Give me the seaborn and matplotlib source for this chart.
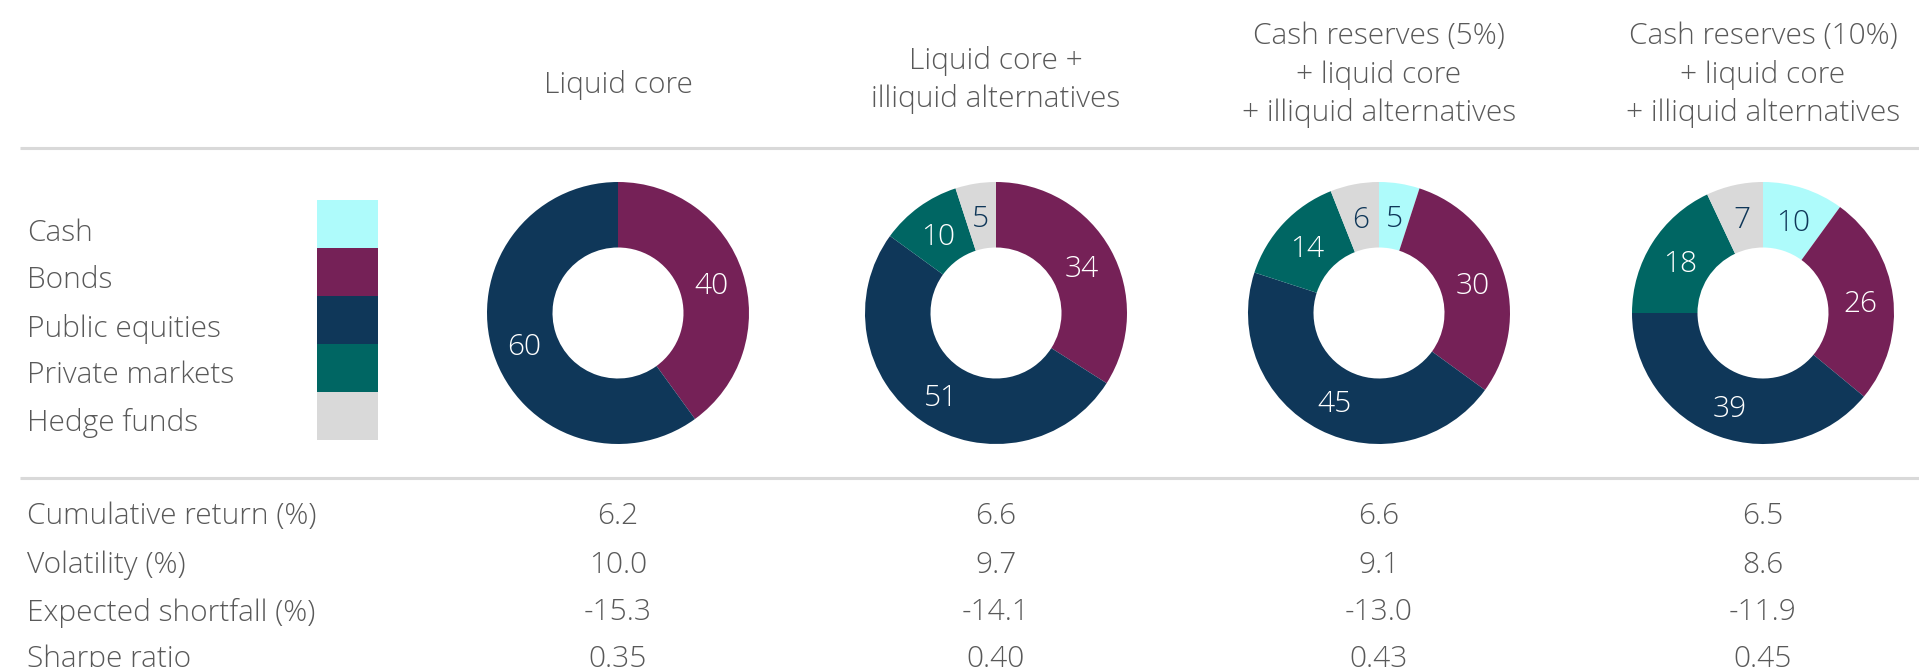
import numpy as np
import pandas as pd
import matplotlib
matplotlib.use("Agg")
import matplotlib.pyplot as plt
import seaborn as sns

# Datos
segmentos = ["Cash", "Bonds", "Public equities", "Private markets", "Hedge funds"]
carteras = [
    "Liquid core",
    "Liquid core +\nilliquid alternatives",
    "Cash reserves (5%)\n+ liquid core\n+ illiquid alternatives",
    "Cash reserves (10%)\n+ liquid core\n+ illiquid alternatives",
]
liquid_core = [0, 40, 60, 0, 0]
liquid_illiquid = [0, 34, 51, 10, 5]
cash5 = [5, 30, 45, 14, 6]
cash10 = [10, 26, 39, 18, 7]

metricas = ["Cumulative return (%)", "Volatility (%)", "Expected shortfall (%)", "Sharpe ratio"]
cum_return = [6.2, 6.6, 6.6, 6.5]
volatility = [10.0, 9.7, 9.1, 8.6]
exp_shortfall = [-15.3, -14.1, -13.0, -11.9]
sharpe = [0.35, 0.40, 0.43, 0.45]
formatos = ["{:.1f}", "{:.1f}", "{:.1f}", "{:.2f}"]

colores = sns.color_palette(["#aefbfb", "#752157", "#0f3759", "#006663", "#d9d9d9"])
color_etiqueta = ["#0f3759", "white", "white", "white", "#0f3759"]
gris_texto = "#595959"
gris_linea = "#d9d9d9"

sns.set_theme(style="white")
plt.rcParams["font.family"] = ["Open Sans", "DejaVu Sans"]

W, H = 1919, 667
fig = plt.figure(figsize=(W / 100, H / 100), dpi=100)

# Ejes de fondo en coordenadas de pixel
bg = fig.add_axes([0, 0, 1, 1])
bg.set_xlim(0, W)
bg.set_ylim(H, 0)
bg.axis("off")

centros = [618, 996, 1379, 1763]
cy, radio = 313, 131
fs = 21.5
peso = "light"

# Titulos de columna (y de la primera linea)
y_titulo = [82, 57, 33, 33]
for cx, titulo, y0 in zip(centros, carteras, y_titulo):
    for i, linea in enumerate(titulo.split("\n")):
        bg.text(cx, y0 + i * 38.5, linea, ha="center", va="center_baseline",
                fontsize=fs, color=gris_texto, fontweight=peso)

# Lineas separadoras
bg.plot([20, W], [148, 148], color=gris_linea, lw=2.2, solid_capstyle="butt")
bg.plot([20, W], [478, 478], color=gris_linea, lw=2.2, solid_capstyle="butt")

# Leyenda
y_leyenda = [230, 277, 325, 372, 419]
for seg, yy in zip(segmentos, y_leyenda):
    bg.text(27, yy, seg, ha="left", va="center_baseline", fontsize=fs,
            color=gris_texto, fontweight=peso)

ax_leg = fig.add_axes([317 / W, 1 - 440 / H, 61 / W, 240 / H])
ax_leg.bar([0] * len(segmentos), [1] * len(segmentos), bottom=np.arange(len(segmentos)),
           width=1, color=colores, linewidth=0)
ax_leg.set_xlim(-0.5, 0.5)
ax_leg.set_ylim(len(segmentos), 0)
ax_leg.axis("off")

# Donuts
for cx, vals in zip(centros, [liquid_core, liquid_illiquid, cash5, cash10]):
    ax = fig.add_axes([(cx - radio) / W, 1 - (cy + radio) / H, 2 * radio / W, 2 * radio / H])
    df = pd.DataFrame({"segmento": segmentos, "valor": vals, "color": colores,
                       "etq": color_etiqueta})
    df = df[df["valor"] > 0]
    wedges, textos = ax.pie(df["valor"], colors=df["color"], startangle=90, counterclock=False,
                            radius=1, wedgeprops=dict(width=0.5, linewidth=0),
                            labels=[str(v) for v in df["valor"]], labeldistance=0.75)
    for t, c in zip(textos, df["etq"]):
        t.set_color(c)
        t.set_fontsize(fs)
        t.set_fontweight(peso)
        t.set_ha("center")
        t.set_va("center_baseline")
    ax.set_xlim(-1, 1)
    ax.set_ylim(-1, 1)
    ax.set_aspect("equal")
    ax.axis("off")

# Tabla de metricas
y_filas = [513, 562, 609, 656]
for metrica, fila, fmt, yy in zip(metricas, [cum_return, volatility, exp_shortfall, sharpe],
                                  formatos, y_filas):
    bg.text(27, yy, metrica, ha="left", va="center_baseline", fontsize=fs,
            color=gris_texto, fontweight=peso)
    for cx, v in zip(centros, fila):
        bg.text(cx, yy, fmt.format(v), ha="center", va="center_baseline", fontsize=fs,
                color=gris_texto, fontweight=peso)

fig.savefig("out.png", dpi=100)
